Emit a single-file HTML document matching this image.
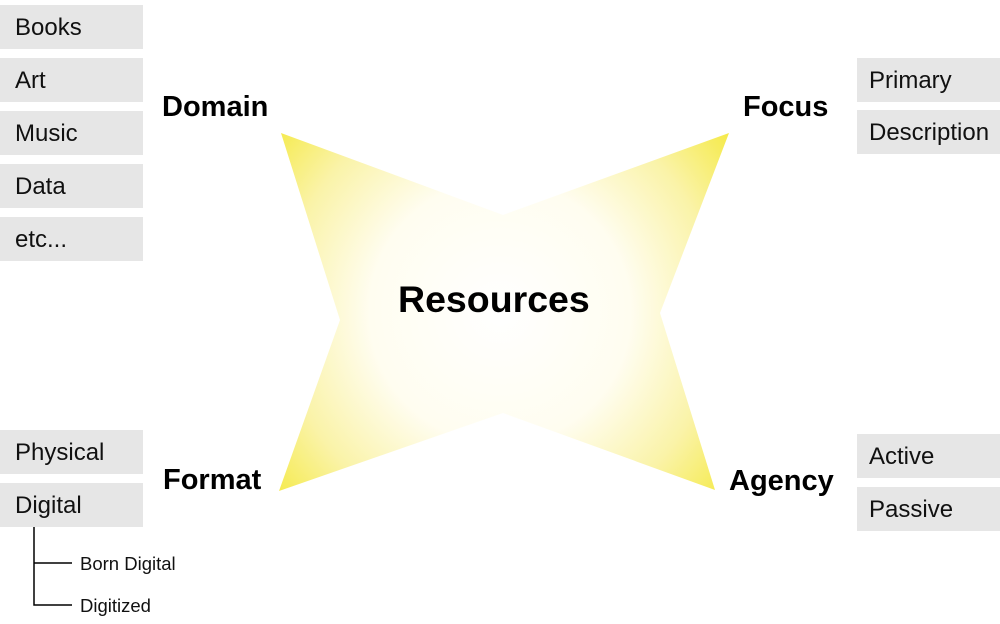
<!DOCTYPE html>
<html><head><style>
body{margin:0;width:1000px;height:624px;background:#fff;position:relative;overflow:hidden;font-family:"Liberation Sans",Arial,sans-serif}
.b{position:absolute;width:143px;height:44px;background:#e6e6e6;font-size:24px;line-height:46px;box-sizing:border-box;padding-left:15px;color:#111}
.r{left:857px;padding-left:12px}
.h{position:absolute;font-weight:bold;font-size:29px;color:#000}
.s{position:absolute;font-size:18.5px;color:#111}
</style></head><body>
<svg width="1000" height="624" style="position:absolute;left:0;top:0">
<defs><radialGradient id="g" cx="500" cy="312" r="290" gradientUnits="userSpaceOnUse">
<stop offset="0" stop-color="#fff"/><stop offset="0.45" stop-color="#fffdf0"/><stop offset="0.75" stop-color="#faf3a8"/><stop offset="1" stop-color="#f5ea4a"/></radialGradient></defs>
<polygon points="281,133 503,215 729,133 660,313 715,490 503,413 279,491 340,320" fill="url(#g)"/>
<path d="M34 527 V605 H72 M34 563 H72" stroke="#000" stroke-width="1.5" fill="none"/>
</svg>
<div class="b" style="top:5px;left:0">Books</div>
<div class="b" style="top:58px;left:0">Art</div>
<div class="b" style="top:111px;left:0">Music</div>
<div class="b" style="top:164px;left:0">Data</div>
<div class="b" style="top:217px;left:0">etc...</div>
<div class="b" style="top:430px;left:0">Physical</div>
<div class="b" style="top:483px;left:0">Digital</div>
<div class="b r" style="top:58px">Primary</div>
<div class="b r" style="top:110px">Description</div>
<div class="b r" style="top:434px">Active</div>
<div class="b r" style="top:487px">Passive</div>
<div class="h" style="left:162px;top:91px">Domain</div>
<div class="h" style="left:743px;top:91px">Focus</div>
<div class="h" style="left:163px;top:464px">Format</div>
<div class="h" style="left:729px;top:465px">Agency</div>
<div class="h" style="left:398px;top:278px;font-size:37.5px">Resources</div>
<div class="s" style="left:80px;top:553px">Born Digital</div>
<div class="s" style="left:80px;top:595px">Digitized</div>
</body></html>
